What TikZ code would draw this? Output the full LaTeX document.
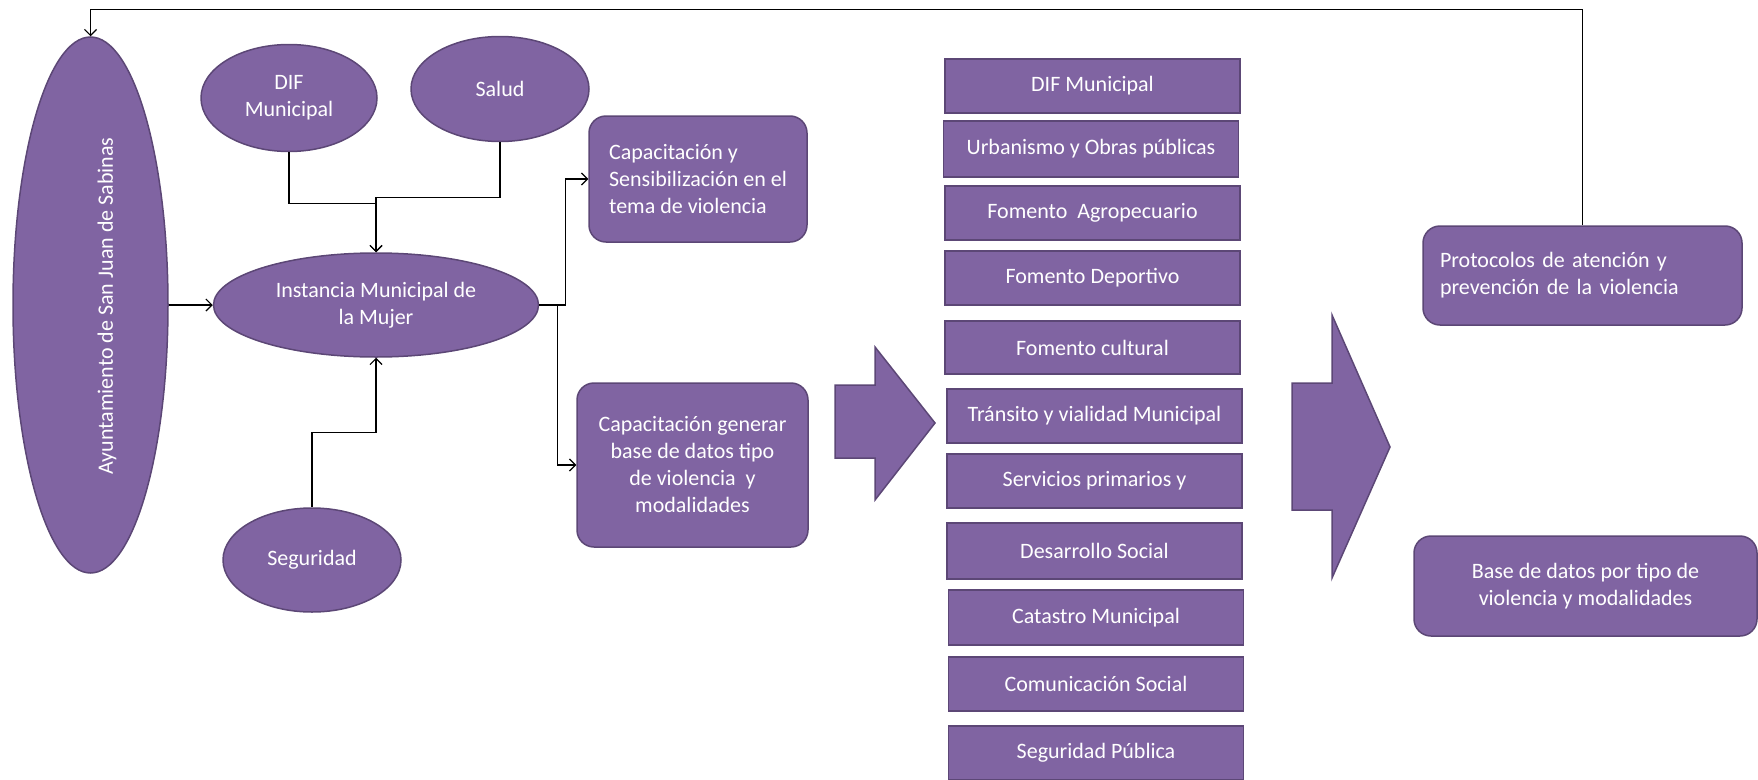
\documentclass[tikz,border=0pt]{standalone}
\usepackage{fontspec}
\setmainfont{Carlito}
\usepackage{tikz}
\usetikzlibrary{arrows.meta,shapes.geometric}
\definecolor{morado}{HTML}{8064A2}
\definecolor{bordemorado}{HTML}{5C4776}

\begin{document}
\begin{tikzpicture}[x=1pt,y=-1pt,->,>={Straight Barb[length=6pt,width=12pt]},
                    line width=1.2pt]
  \tikzstyle{every node}=[font=\fontsize{22}{27}\selectfont]
  \tikzstyle{ovalo}=[ellipse,fill=morado,draw=bordemorado,line width=1.5pt,text=white,inner sep=0pt,align=center]
  \tikzstyle{caja}=[rectangle,fill=morado,draw=bordemorado,line width=1.5pt,text=white,inner sep=0pt,minimum width=295pt,minimum height=54pt]
  \tikzstyle{globo}=[caja,rounded corners=17pt,align=center]
  \tikzstyle{bloque}=[-,fill=morado,draw=bordemorado,line width=1.5pt]

  \useasboundingbox (0,0) rectangle (1758,779);

  \node[ovalo,minimum width=155pt,minimum height=536pt] (ayun) at (90.5,305) {};
  \node[text=white,rotate=90] (ayuntxt) at (107,306) {Ayuntamiento de San Juan de Sabinas};

  \node[ovalo,minimum width=176pt,minimum height=107pt] (dif) at (289,98) {DIF\\Municipal};

  \node[ovalo,minimum width=178pt,minimum height=105pt] (salud) at (500,89) {Salud};

  \node[ovalo,minimum width=325pt,minimum height=104pt] (inst) at (376,305) {Instancia Municipal de\\la Mujer};

  \node[ovalo,minimum width=178pt,minimum height=104pt] (seg) at (312,560) {Seguridad};

  \node[globo,minimum width=218pt,minimum height=126pt,align=left] (cap1) at (698,179)
       {Capacitación y\\Sensibilización en el\\tema de violencia};

  \node[globo,minimum width=231pt,minimum height=164pt] (cap2) at (692.5,465)
       {Capacitación generar\\base de datos tipo\\de violencia~ y\\modalidades};

  % dependencias municipales
  \node[caja] (dif2) at (1092.5,86) {DIF Municipal};
  \node[caja,minimum height=56pt] (urb) at (1091,149) {Urbanismo y Obras públicas};
  \node[caja] (agro) at (1092.5,213) {Fomento~ Agropecuario};
  \node[caja] (dep) at (1092.5,278) {Fomento Deportivo};
  \node[caja,minimum height=53pt] (cult) at (1092.5,347.5) {Fomento cultural};
  \node[caja] (trans) at (1094.5,416) {Tránsito y vialidad Municipal};
  \node[caja] (serv) at (1094.5,481) {Servicios primarios y};
  \node[caja,minimum height=56pt] (des) at (1094.5,551) {Desarrollo Social};
  \node[caja,minimum height=55pt] (cat) at (1096,617.5) {Catastro Municipal};
  \node[caja] (com) at (1096,684) {Comunicación Social};
  \node[caja] (segp) at (1096,753) {Seguridad Pública};

  \node[globo,minimum width=319pt,minimum height=99pt,align=left,text width=285pt] (proto) at (1582.5,275.5)
       {Protocolos de atención y\\prevención de la violencia};

  \node[globo,minimum width=343pt,minimum height=100pt] (base) at (1585.5,586)
       {Base de datos por tipo de\\violencia y modalidades};

  % flechas de bloque
  \draw[bloque] (835,385) -- (875,385) -- (875,347) -- (935,423) -- (875,500) -- (875,458) -- (835,458) -- cycle;
  \draw[bloque] (1292,383) -- (1332,383) -- (1332,315) -- (1390,447) -- (1332,578) -- (1332,510) -- (1292,510) -- cycle;

  \path (ayun) edge (inst);
  \draw (dif.south) -- ++(0,51.5) -| (inst.north);
  \draw (salud.south) -- ++(0,55.5) -| (inst.north);
  \draw (seg.north) -- ++(0,-75) -| (inst.south);
  \draw (inst.east) -- ++(26.5,0) |- (cap1.west);
  \draw (inst.east) -- ++(18.5,0) |- (cap2.west);
  \draw (proto.north) -- ++(0,-216) -| (ayun.north);

\end{tikzpicture}
\end{document}
